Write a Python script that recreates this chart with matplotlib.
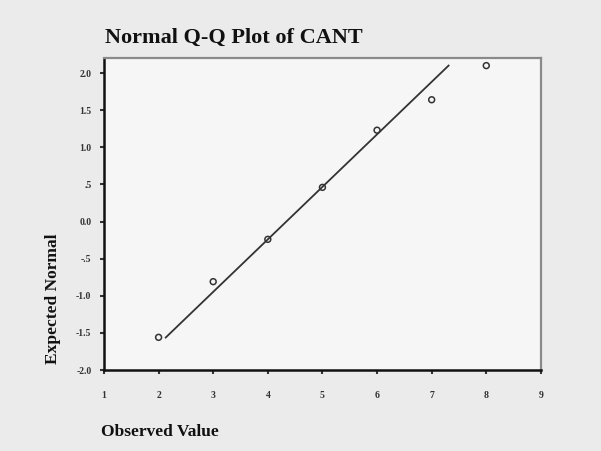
import matplotlib
matplotlib.use("Agg")
import matplotlib.pyplot as plt
import numpy as np

# Data
observed = [2, 3, 4, 5, 6, 7, 8]
expected = [-1.56, -0.81, -0.24, 0.46, 1.23, 1.64, 2.10]
# reference line y = (x - mean) / sd, drawn over this x range
line_mean = 4.34
line_sd = 1.414
line_x_range = [2.13, 7.31]

x_ticks = [1, 2, 3, 4, 5, 6, 7, 8, 9]
y_ticks = [-2.0, -1.5, -1.0, -0.5, 0.0, 0.5, 1.0, 1.5, 2.0]
y_tick_labels = ["-2.0", "-1.5", "-1.0", "-.5", "0.0", ".5", "1.0", "1.5", "2.0"]

serif = ["Liberation Serif", "DejaVu Serif"]
plt.rcParams["font.family"] = serif

fig = plt.figure(figsize=(6.01, 4.51), dpi=100, facecolor="#ebebeb")
ax = fig.add_axes([0.173, 0.1796, 0.727, 0.6914])
ax.set_facecolor("#f6f6f6")

lx = np.array(line_x_range)
ly = (lx - line_mean) / line_sd
ax.plot(lx, ly, color="#333333", lw=1.3, zorder=2)
ax.scatter(observed, expected, s=18, facecolors="none", edgecolors="#333333",
           linewidths=1.1, zorder=3)

ax.set_xlim(1, 9)
ax.set_ylim(-2.0, 2.2)
ax.set_xticks(x_ticks)
ax.set_xticklabels([str(v) for v in x_ticks])
ax.set_yticks(y_ticks)
ax.set_yticklabels(y_tick_labels)

for s in ["left", "bottom"]:
    ax.spines[s].set_color("#111111")
    ax.spines[s].set_linewidth(1.8)
for s in ["top", "right"]:
    ax.spines[s].set_color("#8a8a8a")
    ax.spines[s].set_linewidth(1.6)
    ax.spines[s].set_linestyle((0, (1, 1)))

ax.tick_params(axis="x", direction="out", length=3, width=1.5, color="#333333",
               pad=12, labelsize=7, labelcolor="#333333")
ax.tick_params(axis="y", direction="out", length=3, width=1.5, color="#333333",
               pad=6, labelsize=7, labelcolor="#333333")
for lab in ax.get_xticklabels() + ax.get_yticklabels():
    lab.set_fontweight("bold")

fig.text(105 / 601, 1 - 38 / 451, "Normal Q-Q Plot of CANT", fontsize=16,
         fontweight="bold", ha="left", va="center", color="#111111")
fig.text(101 / 601, 1 - 432 / 451, "Observed Value", fontsize=12.5,
         fontweight="bold", ha="left", va="center", color="#111111")
fig.text(53 / 601, 1 - 364 / 451, "Expected Normal", fontsize=12.5,
         fontweight="bold", ha="left", va="center", rotation=90,
         rotation_mode="anchor", color="#111111")

fig.savefig("out.png", dpi=100, facecolor=fig.get_facecolor())
